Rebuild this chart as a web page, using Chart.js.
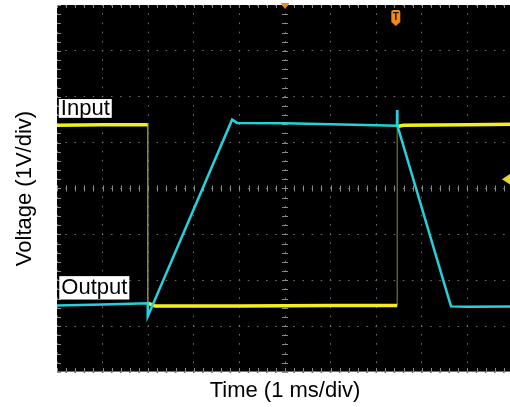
<!DOCTYPE html>
<html>
<head>
<meta charset="utf-8">
<script src="https://cdn.jsdelivr.net/npm/chart.js@4.4.1/dist/chart.umd.min.js"></script>
<style>
  html, body { margin: 0; padding: 0; background: #fff; overflow: hidden; }
  #scope { display: block; }
</style>
</head>
<body>
<canvas id="scope" width="514" height="407"></canvas>
<script>
// ---------------------------------------------
// Scope capture: time in divisions (1 ms/div), voltage in divisions (1 V/div)
// ---------------------------------------------
const inputTime  = [0, 1.0, 1.99, 1.99, 2.15, 4.0, 6.0, 7.46, 7.46, 7.6, 9.0, 10];
const inputVolt  = [1.38, 1.39, 1.39, -2.50, -2.56, -2.56, -2.55, -2.55, 1.35, 1.38, 1.39, 1.40];

const outputTime = [0, 1.0, 1.99, 1.99, 3.84, 3.95, 5.0, 6.5, 7.455, 7.46, 7.465, 8.64, 9.0, 10];
const outputVolt = [-2.55, -2.53, -2.50, -2.79, 1.50, 1.43, 1.42, 1.39, 1.37, 1.71, 1.37, -2.57, -2.58, -2.57];

const X_MIN = 0, X_MAX = 10;   // 10 horizontal divisions
const Y_MIN = -4, Y_MAX = 4;   // 8 vertical divisions
const MINOR = 5;               // minor ticks per division

const YELLOW = '#f3ef1c';
const CYAN   = '#25d2dc';
const EDGE   = '#8e8a30';
const ORANGE = '#f08a1e';
const FONT   = '"Liberation Sans", Arial, sans-serif';

const toPts = (xs, ys) => xs.map((x, i) => ({ x, y: ys[i] }));

// fast edges of the input trace are drawn thin and dim, like on the scope
function edgePoints(xs, ys) {
  const pts = [];
  for (let i = 0; i < xs.length - 1; i++) {
    if (xs[i] === xs[i + 1]) {
      pts.push({ x: xs[i], y: ys[i] }, { x: xs[i], y: ys[i + 1] }, { x: xs[i], y: null });
    }
  }
  return pts;
}

// ─────────────────────────────────────────
// PLUGINS — screen, crosshair ticks, markers, labels
// ─────────────────────────────────────────
const screenPlugin = {
  id: 'screen',
  beforeDraw(chart) {
    const { ctx, chartArea: a } = chart;
    ctx.save();
    ctx.fillStyle = '#fff';
    ctx.fillRect(0, 0, chart.width, chart.height);
    ctx.fillStyle = '#000';
    ctx.fillRect(a.left, a.top, a.right - a.left, a.bottom - a.top);
    ctx.restore();
  },
  beforeDatasetsDraw(chart) {
    const { ctx, chartArea: a, scales: { x, y } } = chart;
    const cx = x.getPixelForValue((X_MIN + X_MAX) / 2);
    const cy = y.getPixelForValue(0);
    ctx.save();
    ctx.strokeStyle = '#8a8a8a';
    ctx.lineWidth = 1;
    ctx.beginPath();
    // ticks along horizontal centre line, bottom and top borders
    for (let v = X_MIN; v <= X_MAX + 1e-6; v += 1 / MINOR) {
      const px = Math.round(x.getPixelForValue(v)) + 0.5;
      ctx.moveTo(px, cy - 3); ctx.lineTo(px, cy + 3);
      ctx.moveTo(px, a.bottom - 4); ctx.lineTo(px, a.bottom);
      ctx.moveTo(px, a.top); ctx.lineTo(px, a.top + 3);
    }
    // ticks along vertical centre line and left border
    for (let v = Y_MIN; v <= Y_MAX + 1e-6; v += 1 / MINOR) {
      const py = Math.round(y.getPixelForValue(v)) + 0.5;
      ctx.moveTo(cx - 3, py); ctx.lineTo(cx + 3, py);
      ctx.moveTo(a.left, py); ctx.lineTo(a.left + 4, py);
    }
    ctx.stroke();
    // bottom border line
    ctx.strokeStyle = '#707070';
    ctx.beginPath();
    ctx.moveTo(a.left, a.bottom - 0.5); ctx.lineTo(a.right, a.bottom - 0.5);
    ctx.stroke();
    ctx.restore();
  },
  afterDatasetsDraw(chart) {
    const { ctx, chartArea: a, scales: { x, y } } = chart;
    ctx.save();

    // trigger position marker (top centre)
    const mx = x.getPixelForValue(5);
    ctx.fillStyle = ORANGE;
    ctx.beginPath();
    ctx.moveTo(mx - 4.5, a.top - 2); ctx.lineTo(mx + 4.5, a.top - 2); ctx.lineTo(mx, a.top + 4);
    ctx.closePath(); ctx.fill();

    // "T" trigger marker
    const tx = x.getPixelForValue(7.43), tTop = a.top + 5, tw = 9, th = 16;
    ctx.beginPath();
    ctx.moveTo(tx - tw / 2, tTop + 2);
    ctx.quadraticCurveTo(tx - tw / 2, tTop, tx - tw / 2 + 2, tTop);
    ctx.lineTo(tx + tw / 2 - 2, tTop);
    ctx.quadraticCurveTo(tx + tw / 2, tTop, tx + tw / 2, tTop + 2);
    ctx.lineTo(tx + tw / 2, tTop + th - 4);
    ctx.lineTo(tx, tTop + th);
    ctx.lineTo(tx - tw / 2, tTop + th - 4);
    ctx.closePath(); ctx.fill();
    ctx.fillStyle = '#2a1200';
    ctx.font = 'bold 10px ' + FONT;
    ctx.textAlign = 'center'; ctx.textBaseline = 'middle';
    ctx.fillText('T', tx, tTop + 7);

    // trigger level marker (right edge)
    const ly = y.getPixelForValue(0.2);
    ctx.fillStyle = '#e6d43a';
    ctx.beginPath();
    ctx.moveTo(502, ly); ctx.lineTo(511, ly - 6); ctx.lineTo(511, ly + 6);
    ctx.closePath(); ctx.fill();

    // channel labels
    ctx.font = '22px ' + FONT;
    ctx.textAlign = 'left'; ctx.textBaseline = 'alphabetic';
    [['Input', 0.04, 1.95, 1.54, 1.60], ['Output', 0.05, -1.91, -2.42, -2.30]].forEach(([txt, xv, top, bot, base]) => {
      const lx = x.getPixelForValue(xv);
      const w = ctx.measureText(txt).width + 4;
      const t = y.getPixelForValue(top), b = y.getPixelForValue(bot);
      ctx.fillStyle = '#fff';
      ctx.fillRect(lx, t, w, b - t);
      ctx.fillStyle = '#000';
      ctx.fillText(txt, lx + 2, y.getPixelForValue(base));
    });
    ctx.restore();
  }
};

// ─────────────────────────────────────────
// CHART
// ─────────────────────────────────────────
new Chart(document.getElementById('scope'), {
  type: 'line',
  data: {
    datasets: [
      {
        label: 'Output',
        data: toPts(outputTime, outputVolt),
        borderColor: CYAN,
        borderWidth: 2.5,
        pointRadius: 0,
        tension: 0,
        fill: false
      },
      {
        label: 'Input',
        data: toPts(inputTime, inputVolt),
        borderColor: YELLOW,
        borderWidth: 3.5,
        pointRadius: 0,
        tension: 0,
        fill: false,
        segment: {
          borderColor: ctx => ctx.p0.parsed.x === ctx.p1.parsed.x ? 'rgba(0,0,0,0)' : YELLOW
        }
      },
      {
        label: 'Input edges',
        data: edgePoints(inputTime, inputVolt),
        borderColor: EDGE,
        borderWidth: 1,
        pointRadius: 0,
        fill: false,
        spanGaps: false
      }
    ]
  },
  options: {
    responsive: false,
    devicePixelRatio: 1,
    animation: false,
    events: [],
    layout: { padding: { top: 5, right: 1, bottom: 0, left: 0 } },
    plugins: {
      legend: { display: false },
      tooltip: { enabled: false }
    },
    scales: {
      x: {
        type: 'linear',
        min: X_MIN, max: X_MAX,
        ticks: { display: false, stepSize: 1 },
        grid: { color: '#6e6e6e', lineWidth: 1, drawTicks: false },
        border: { display: false, dash: [1.6, 7.56], dashOffset: 0.8 },
        title: {
          display: true,
          text: 'Time (1 ms/div)',
          color: '#000',
          font: { family: FONT, size: 22 },
          padding: { top: 5.3, bottom: 3.3 }
        }
      },
      y: {
        type: 'linear',
        min: Y_MIN, max: Y_MAX,
        ticks: { display: false, stepSize: 1 },
        grid: { color: '#6e6e6e', lineWidth: 1, drawTicks: false },
        border: { display: false, dash: [1.6, 7.52], dashOffset: 0.8 },
        title: {
          display: true,
          text: 'Voltage (1V/div)',
          color: '#000',
          font: { family: FONT, size: 22 },
          padding: { top: 11.8, bottom: 18.8 }
        }
      }
    }
  },
  plugins: [screenPlugin]
});
</script>
</body>
</html>
